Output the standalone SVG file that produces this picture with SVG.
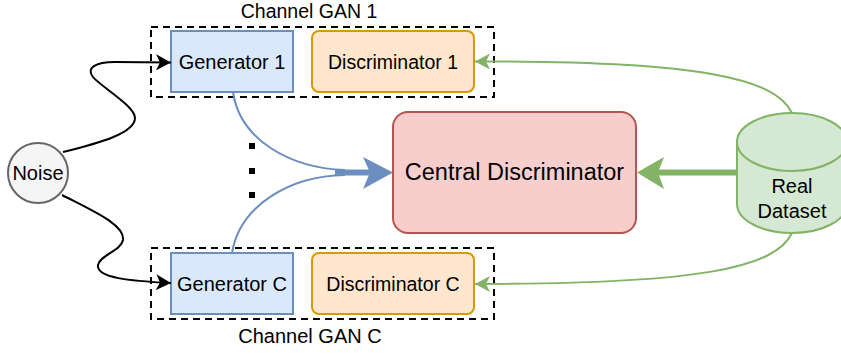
<svg xmlns="http://www.w3.org/2000/svg" width="841" height="354" viewBox="0 0 841 354">
<style>
text{font-family:"Liberation Sans",Arial,sans-serif;font-size:20px;fill:#000;text-anchor:middle}
.grp{fill:none;stroke:#000;stroke-width:2;stroke-dasharray:7 5}
.gen{fill:#dae8fc;stroke:#6c8ebf;stroke-width:2}
.dis{fill:#ffe6cc;stroke:#d79b00;stroke-width:2}
.blk{fill:none;stroke:#000;stroke-width:2}
.blu{fill:none;stroke:#6c8ebf;stroke-width:2}
.grn{fill:none;stroke:#82b366;stroke-width:2}
</style>
<defs>
<marker id="ab" markerWidth="16" markerHeight="16" refX="15" refY="8" orient="auto" markerUnits="userSpaceOnUse">
<path d="M0,0 L15,8 L0,16 L4,8 Z" fill="#000"/>
</marker>
<marker id="ag" markerWidth="16" markerHeight="16" refX="15" refY="8" orient="auto" markerUnits="userSpaceOnUse">
<path d="M0,0 L15,8 L0,16 L4,8 Z" fill="#82b366"/>
</marker>
</defs>
<g id="channel1">
<rect class="grp" x="151" y="27" width="343" height="70"/>
<text x="309" y="18" style="font-size:19.5px">Channel GAN 1</text>
</g>
<g id="channelC">
<rect class="grp" x="151" y="248" width="343" height="71"/>
<text x="310" y="343">Channel GAN C</text>
</g>
<g id="gen1">
<rect class="gen" x="171" y="31" width="122" height="61"/>
<text x="232" y="69">Generator 1</text>
</g>
<g id="dis1">
<rect class="dis" x="312" y="31" width="162" height="61" rx="7"/>
<text x="393" y="69" style="font-size:19.5px">Discriminator 1</text>
</g>
<g id="genC">
<rect class="gen" x="171" y="253" width="122" height="61"/>
<text x="232" y="291">Generator C</text>
</g>
<g id="disC">
<rect class="dis" x="312" y="253" width="162" height="61" rx="7"/>
<text x="393" y="291" style="font-size:19.5px">Discriminator C</text>
</g>
<g id="central">
<rect x="393" y="112" width="243" height="121" rx="15" fill="#f8cecc" stroke="#b85450" stroke-width="2"/>
<text x="514.5" y="180" style="font-size:23.5px">Central Discriminator</text>
</g>
<g id="noise">
<circle cx="38" cy="173" r="30" fill="#f5f5f5" stroke="#666666" stroke-width="2"/>
<text x="38" y="180">Noise</text>
</g>
<g id="dataset">
<path d="M737,142 A55,29 0 0 1 847,142 L847,204 A55,29 0 0 1 737,204 Z" fill="#d5e8d4" stroke="#82b366" stroke-width="2"/>
<path d="M737,142 A55,29 0 0 0 847,142" fill="none" stroke="#82b366" stroke-width="2"/>
<text x="792" y="193">Real</text>
<text x="792" y="218">Dataset</text>
</g>
<g id="dots" fill="#000">
<rect x="249" y="143" width="6" height="6"/>
<rect x="249" y="168" width="6" height="6"/>
<rect x="249" y="192" width="6" height="6"/>
</g>
<g id="connectors">
<path class="blk" d="M63,152 C100,143 135,133 135,118 C135,106 100,86 93,77 C86,68 95,62 115,62 L171,62.5" marker-end="url(#ab)"/>
<path class="blk" d="M62,195 C95,212 125,225 123,240 C121,251 100,255 98,265 C96,278 130,281 171,283" marker-end="url(#ab)"/>
<path class="blu" d="M233,92 C240,140 290,168 345,170"/>
<path class="blu" d="M232,253 C240,205 290,176 345,175"/>
<path d="M335,172.5 L372,172.5" stroke="#6c8ebf" stroke-width="6" fill="none"/>
<path d="M363,157 L393,172.5 L363,189 L370,172.5 Z" fill="#6c8ebf"/>
<path d="M737,172.5 L655,172.5" stroke="#82b366" stroke-width="6" fill="none"/>
<path d="M664,157 L637,172.5 L664,189 L658,172.5 Z" fill="#82b366"/>
<path class="grn" d="M792,113 C775,78 700,61 475,61.5" marker-end="url(#ag)"/>
<path class="grn" d="M792,233 C775,268 700,284 475,284" marker-end="url(#ag)"/>
</g>
</svg>
